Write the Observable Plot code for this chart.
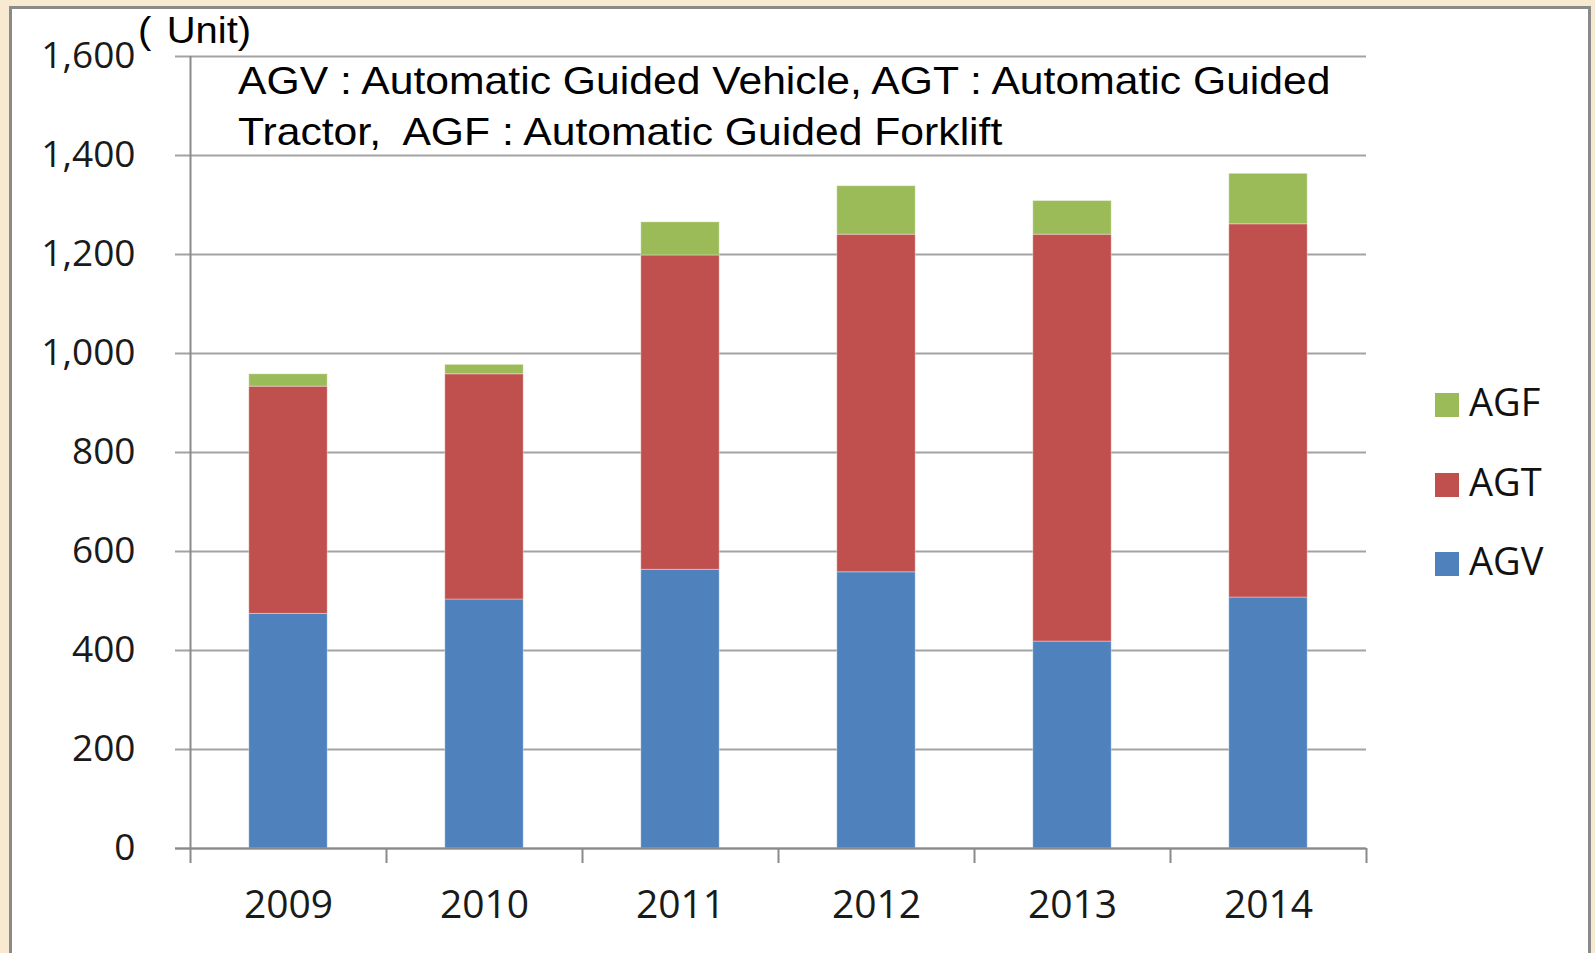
<!DOCTYPE html>
<html><head><meta charset="utf-8">
<script src="https://cdn.jsdelivr.net/npm/d3@7"></script>
<script src="https://cdn.jsdelivr.net/npm/@observablehq/plot@0.6"></script>
<style>
html,body{margin:0;padding:0;width:1595px;height:953px;overflow:hidden;background:#f8ead0;}
#panel{position:absolute;left:9px;top:6px;width:1582px;height:980px;background:#fff;border:3px solid #8a8a8a;box-sizing:border-box;}
#chart{position:absolute;left:0;top:0;}
.note{position:absolute;font-family:"Liberation Sans",Arial,sans-serif;color:#000;white-space:nowrap;transform-origin:0 0;}
#unit{left:138px;top:12px;font-size:37px;line-height:37px;word-spacing:4px;transform:scaleX(1.08);}
#note{left:238px;top:55px;font-size:39px;line-height:51px;transform:scaleX(1.094);}
.lg{position:absolute;left:1435px;height:36px;font-family:"Open Sans",sans-serif;font-size:38px;line-height:36px;color:#111;white-space:nowrap;}
.lg .sw{position:absolute;left:0;top:6px;width:24px;height:24px;}
.lg .tx{position:absolute;left:34px;top:-4px;}
</style></head><body>
<div id="panel"></div>
<div id="chart"></div>
<div id="unit" class="note">( Unit)</div>
<div id="note" class="note">AGV : Automatic Guided Vehicle, AGT : Automatic Guided<br>Tractor,&nbsp; AGF : Automatic Guided Forklift</div>
<div id="legend"></div>
<script>
const years = ["2009", "2010", "2011", "2012", "2013", "2014"];
const series = ["AGV", "AGT", "AGF"];
const agv = [474, 503, 563, 558, 418, 507];
const agt = [459, 455, 635, 682, 822, 754];
const agf = [25, 19, 67, 98, 68, 102];
const colors = ["#4f81bd", "#c0504d", "#9bbb59"];
const yTicks = [0, 200, 400, 600, 800, 1000, 1200, 1400, 1600];

const values = {AGV: agv, AGT: agt, AGF: agf};
const rows = [];
years.forEach((yr, i) => {
  series.forEach(s => rows.push({year: yr, series: s, value: values[s][i], i0: i + 0.3, i1: i + 0.7}));
});
const bounds = d3.range(years.length + 1);
const mids = years.map((_, i) => i + 0.5);

const chart = Plot.plot({
  width: 1595,
  height: 953,
  marginLeft: 190,
  marginRight: 229,
  marginTop: 56,
  marginBottom: 105,
  style: {background: "transparent", fontFamily: "'Open Sans', sans-serif"},
  x: {type: "linear", domain: [0, years.length], axis: null},
  y: {domain: [0, 1600], axis: null},
  color: {domain: series, range: colors},
  marks: [
    Plot.ruleY(yTicks, {stroke: "#a3a3a3", strokeWidth: 2, insetLeft: -15}),
    Plot.rectY(rows, Plot.stackY({x1: "i0", x2: "i1", y: "value", fill: "series", stroke: "#ffffff", strokeOpacity: 0.35, strokeWidth: 1})),
    Plot.ruleX([0], {y1: 0, y2: 1600, stroke: "#8a8a8a", strokeWidth: 2}),
    Plot.ruleY([0], {stroke: "#8a8a8a", strokeWidth: 2, insetLeft: -15}),
    Plot.axisX({ticks: bounds, tickSize: 15, tickFormat: () => "", stroke: "#8a8a8a", strokeWidth: 2}),
    Plot.axisX({ticks: mids, tickSize: 0, tickPadding: 42, tickFormat: d => years[Math.floor(d)], fontSize: 39, fill: "#1a1a1a"}),
    Plot.axisY({ticks: yTicks, tickSize: 0, tickPadding: 55, tickFormat: d3.format(","), fontSize: 37, fill: "#1a1a1a", label: null})
  ]
});
document.getElementById("chart").appendChild(chart);

const legendCenters = {AGF: 405, AGT: 485, AGV: 564};
const lg = document.getElementById("legend");
[...series].reverse().forEach(s => {
  const row = document.createElement("div");
  row.className = "lg";
  row.style.top = (legendCenters[s] - 18) + "px";
  row.innerHTML = `<div class="sw" style="background:${colors[series.indexOf(s)]}"></div><div class="tx">${s}</div>`;
  lg.appendChild(row);
});
</script>
</body></html>
